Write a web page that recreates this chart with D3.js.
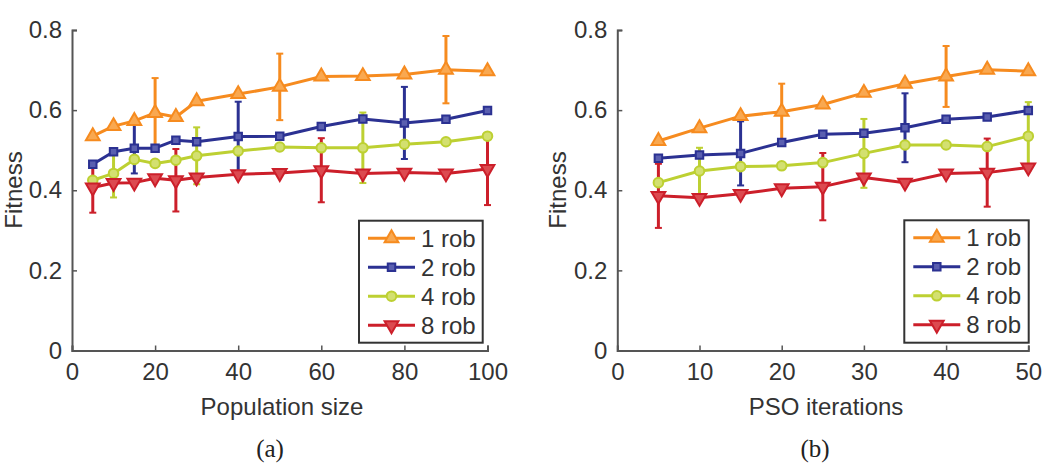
<!DOCTYPE html>
<html><head><meta charset="utf-8">
<script src="https://cdn.jsdelivr.net/npm/d3@7"></script>
<style>body{margin:0;background:#fff}svg{display:block}</style>
</head><body>
<svg id="c" width="1051" height="466"></svg>
<script>
// ---- data ----
const seriesNames = ["1 rob", "2 rob", "4 rob", "8 rob"];
const popSize = [5,10,15,20,25,30,40,50,60,70,80,90,100];
const rob1A = [0.535,0.560,0.573,0.593,0.583,0.622,0.640,0.658,0.684,0.685,0.689,0.701,0.697];
const err1A = [0,0,0,0.087,0,0,0,0.083,0,0,0,0.084,0];
const rob2A = [0.465,0.496,0.505,0.505,0.525,0.521,0.534,0.535,0.559,0.578,0.568,0.577,0.599];
const err2A = [0,0,0.063,0,0,0,0.087,0,0,0,0.09,0,0];
const rob4A = [0.425,0.442,0.477,0.467,0.475,0.486,0.498,0.508,0.506,0.506,0.515,0.521,0.535];
const err4A = [0,0.06,0,0,0,0.071,0,0,0,0.088,0,0,0];
const rob8A = [0.407,0.418,0.419,0.430,0.425,0.432,0.440,0.443,0.450,0.442,0.444,0.442,0.453];
const err8A = [0.063,0,0,0,0.078,0,0,0,0.08,0,0,0,0.09];

const psoIter = [5,10,15,20,25,30,35,40,45,50];
const rob1B = [0.523,0.555,0.585,0.596,0.614,0.643,0.666,0.684,0.701,0.697];
const err1B = [0,0,0,0.07,0,0,0,0.076,0,0];
const rob2B = [0.480,0.488,0.492,0.519,0.540,0.542,0.556,0.577,0.583,0.599];
const err2B = [0,0,0.08,0,0,0,0.086,0,0,0];
const rob4B = [0.419,0.448,0.459,0.461,0.469,0.492,0.513,0.513,0.509,0.535];
const err4B = [0,0.058,0,0,0,0.086,0,0,0,0.085];
const rob8B = [0.386,0.381,0.391,0.405,0.409,0.432,0.419,0.442,0.444,0.457];
const err8B = [0.08,0,0,0,0.084,0,0,0,0.085,0];

const xTicksA = [0,20,40,60,80,100];
const xTicksB = [0,10,20,30,40,50];
const yTicks = [0,0.2,0.4,0.6,0.8];

// ---- style ----
const colors = ["#f68b1f","#2b3192","#bdd032","#cc1f2a"];
const fills  = ["#f9a850","#5a5fb0","#d3e070","#dc4a50"];
const symbols = ["up","square","circle","down"];
const axisColor = "#555";
const textColor = "#333";
const font = "Liberation Sans, Arial, sans-serif";
const fs = 24;

const panels = [
  {x0:72, x1:487.5, xmax:100, xs:popSize, ys:[rob1A,rob2A,rob4A,rob8A], es:[err1A,err2A,err4A,err8A],
   ticks:xTicksA, label:"Population size", labelX:282, cap:"(a)", capX:270, yLabelX:14,
   legend:{x:359, y:220.7, w:123.7, h:122}},
  {x0:617.3, x1:1028.3, xmax:50, xs:psoIter, ys:[rob1B,rob2B,rob4B,rob8B], es:[err1B,err2B,err4B,err8B],
   ticks:xTicksB, label:"PSO iterations", labelX:826, cap:"(b)", capX:815, yLabelX:558,
   legend:{x:904.3, y:220.3, w:124.4, h:122.4}}
];

const svg = d3.select("#c");
const yScale = d3.scaleLinear().domain([0,0.8]).range([350.5,30]);

function markerPath(kind){
  if(kind==="up" || kind==="down") return d3.symbol(d3.symbolTriangle, 82)();
  if(kind==="square") return d3.symbol(d3.symbolSquare, 56)();
  return d3.symbol(d3.symbolCircle, 72)();
}
function drawMarker(g, kind, x, y, i){
  g.append("path").attr("d", markerPath(kind))
    .attr("transform", `translate(${x},${y})` + (kind==="down" ? " rotate(180)" : ""))
    .attr("fill", fills[i]).attr("stroke", colors[i]).attr("stroke-width", 2);
}

panels.forEach(p => {
  const g = svg.append("g");
  const x = d3.scaleLinear().domain([0,p.xmax]).range([p.x0,p.x1]);

  // axes
  const xa = g.append("g").attr("transform", `translate(0,${yScale(0)})`)
    .call(d3.axisBottom(x).tickValues(p.ticks).tickSize(-5).tickFormat(d3.format("d")).tickPadding(12));
  const ya = g.append("g").attr("transform", `translate(${p.x0},0)`)
    .call(d3.axisLeft(yScale).tickValues(yTicks).tickSize(-5).tickPadding(10)
      .tickFormat(d => d===0 ? "0" : d3.format(".1f")(d)));
  [xa, ya].forEach(a => {
    a.select(".domain").attr("stroke", axisColor).attr("stroke-width", 2);
    a.selectAll(".tick line").attr("stroke", axisColor).attr("stroke-width", 1.5);
    a.selectAll(".tick text").attr("fill", textColor).attr("font-family", font).attr("font-size", fs);
  });
  xa.selectAll(".tick text").attr("dy", "0.71em");

  // series
  p.ys.forEach((vals, i) => {
    const line = d3.line().x((d,k) => x(p.xs[k])).y(d => yScale(d));
    g.append("path").datum(vals).attr("d", line).attr("fill","none")
      .attr("stroke", colors[i]).attr("stroke-width", 3).attr("stroke-linejoin","round");
  });
  p.ys.forEach((vals, i) => {
    vals.forEach((v, k) => {
      const e = p.es[i][k];
      if (e > 0) {
        const cx = x(p.xs[k]);
        g.append("line").attr("x1",cx).attr("x2",cx).attr("y1",yScale(v-e)).attr("y2",yScale(v+e))
          .attr("stroke", colors[i]).attr("stroke-width", 3);
        [v-e, v+e].forEach(t => g.append("line").attr("x1",cx-3.5).attr("x2",cx+3.5)
          .attr("y1",yScale(t)).attr("y2",yScale(t)).attr("stroke", colors[i]).attr("stroke-width", 2));
      }
    });
  });
  p.ys.forEach((vals, i) => {
    vals.forEach((v, k) => drawMarker(g, symbols[i], x(p.xs[k]), yScale(v), i));
  });

  // labels
  g.append("text").attr("x", p.labelX).attr("y", 415).attr("text-anchor","middle")
    .attr("font-family", font).attr("font-size", fs).attr("fill", textColor).text(p.label);
  g.append("text").attr("transform", `translate(${p.yLabelX},190) rotate(-90)`).attr("dy","0.35em")
    .attr("text-anchor","middle").attr("font-family", font).attr("font-size", fs).attr("fill", textColor).text("Fitness");
  g.append("text").attr("x", p.capX).attr("y", 457).attr("text-anchor","middle")
    .attr("font-family", "Liberation Serif, Times New Roman, serif").attr("font-size", 25).attr("fill", "#222").text(p.cap);

  // legend
  const L = p.legend;
  const lg = g.append("g");
  lg.append("rect").attr("x",L.x).attr("y",L.y).attr("width",L.w).attr("height",L.h)
    .attr("fill","#fff").attr("stroke","#333").attr("stroke-width",2);
  seriesNames.forEach((name, i) => {
    const ry = L.y + 17.5 + i*29;
    lg.append("line").attr("x1", L.x+9).attr("x2", L.x+56).attr("y1", ry).attr("y2", ry)
      .attr("stroke", colors[i]).attr("stroke-width", 3);
    drawMarker(lg, symbols[i], L.x+32.5, ry, i);
    lg.append("text").attr("x", L.x+62).attr("y", ry).attr("dy","0.36em")
      .attr("font-family", font).attr("font-size", fs).attr("fill", textColor).text(name);
  });
});
</script>
</body></html>
